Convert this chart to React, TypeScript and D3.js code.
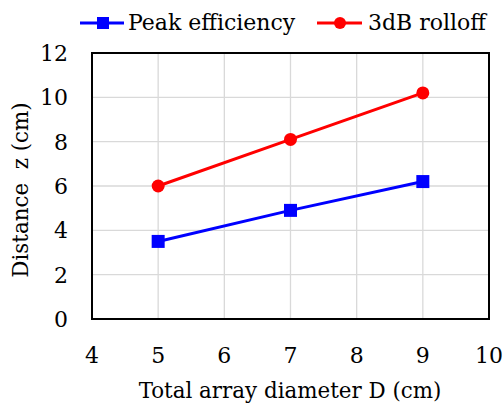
import React from "react";
import * as d3 from "d3";

const diameters = [5, 7, 9];
const peakEfficiency = [3.5, 4.9, 6.2];
const rolloff3dB = [6.0, 8.1, 10.2];
const xTicks = [4, 5, 6, 7, 8, 9, 10];
const yTicks = [0, 2, 4, 6, 8, 10, 12];

const W = 504;
const H = 404;
const M = { left: 92, right: 489, top: 53, bottom: 319 };
const FONT = '"DejaVu Serif", serif';

export default function App() {
  const x = d3.scaleLinear().domain([4, 10]).range([M.left, M.right]);
  const y = d3.scaleLinear().domain([0, 12]).range([M.bottom, M.top]);
  const line = d3
    .line<[number, number]>()
    .x((d) => x(d[0]))
    .y((d) => y(d[1]));
  const peakPts = diameters.map((d, i) => [d, peakEfficiency[i]] as [number, number]);
  const rollPts = diameters.map((d, i) => [d, rolloff3dB[i]] as [number, number]);
  const sq = 13;

  return (
    <svg
      width={W}
      height={H}
      style={{ position: "absolute", left: 0, top: 0, background: "#fff", fontFamily: FONT }}
    >
      {/* grid */}
      {xTicks.map((t) => (
        <line key={"gx" + t} x1={x(t)} x2={x(t)} y1={M.top} y2={M.bottom} stroke="#d9d9d9" strokeWidth={1.3} />
      ))}
      {yTicks.map((t) => (
        <line key={"gy" + t} x1={M.left} x2={M.right} y1={y(t)} y2={y(t)} stroke="#d9d9d9" strokeWidth={1.3} />
      ))}
      <rect x={M.left} y={M.top} width={M.right - M.left} height={M.bottom - M.top} fill="none" stroke="#000" strokeWidth={2} />

      {/* tick labels */}
      {xTicks.map((t) => (
        <text key={"tx" + t} x={x(t)} y={363} textAnchor="middle" fontSize={22} fill="#000">
          {t}
        </text>
      ))}
      {yTicks.map((t) => (
        <text key={"ty" + t} x={68} y={y(t) + 8} textAnchor="end" fontSize={22} fill="#000">
          {t}
        </text>
      ))}

      {/* axis titles */}
      <text x={290} y={398} textAnchor="middle" fontSize={21.4} fill="#000">
        Total array diameter D (cm)
      </text>
      <text
        transform={`translate(28, ${190}) rotate(-90)`}
        textAnchor="middle"
        fontSize={21.4}
        fill="#000"
        style={{ whiteSpace: "pre" }}
      >
        {"Distance  z (cm)"}
      </text>

      {/* series */}
      <path d={line(rollPts) ?? ""} fill="none" stroke="#ff0000" strokeWidth={3} />
      {rollPts.map((p, i) => (
        <circle key={"r" + i} cx={x(p[0])} cy={y(p[1])} r={6.5} fill="#ff0000" />
      ))}
      <path d={line(peakPts) ?? ""} fill="none" stroke="#0000ff" strokeWidth={3} />
      {peakPts.map((p, i) => (
        <rect key={"b" + i} x={x(p[0]) - sq / 2} y={y(p[1]) - sq / 2} width={sq} height={sq} fill="#0000ff" />
      ))}

      {/* legend */}
      <line x1={80} x2={124} y1={23} y2={23} stroke="#0000ff" strokeWidth={3} />
      <rect x={103 - 6} y={23 - 6} width={12} height={12} fill="#0000ff" />
      <text x={128} y={30} fontSize={22} fill="#000">
        Peak efficiency
      </text>
      <line x1={317} x2={362} y1={23} y2={23} stroke="#ff0000" strokeWidth={3} />
      <circle cx={340} cy={23} r={6} fill="#ff0000" />
      <text x={368} y={30} fontSize={22} fill="#000">
        3dB rolloff
      </text>
    </svg>
  );
}
